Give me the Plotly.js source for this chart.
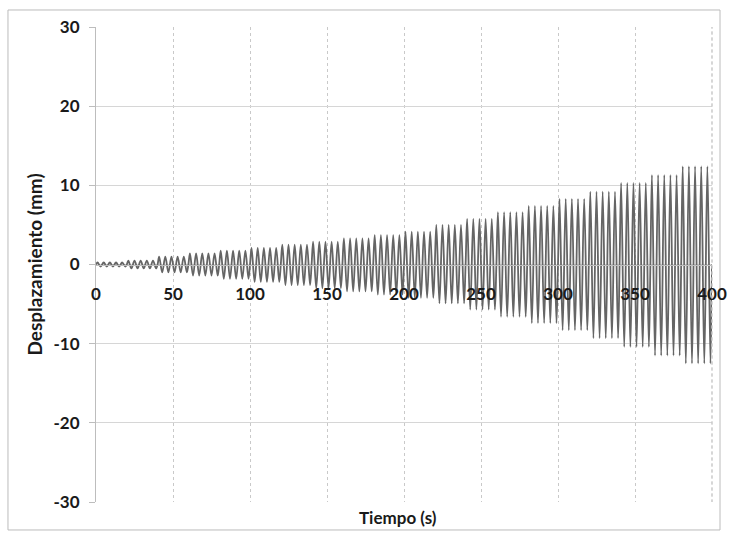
<!DOCTYPE html>
<html>
<head>
<meta charset="utf-8">
<script src="https://cdn.plot.ly/plotly-3.0.1.min.js"></script>
<style>html,body{margin:0;padding:0;background:#fff;}#chart{width:729px;height:536px;}</style>
</head>
<body>
<div id="chart"></div>
<script>
// Loading protocol: 20 s steps, 5 cycles of 4 s each
const stepStart = [0, 20, 40, 60, 80, 100, 120, 140, 160, 180, 200, 220, 240, 260, 280, 300, 320, 340, 360, 380];
const peakPos   = [0.25, 0.5, 1.0, 1.4, 1.75, 2.1, 2.5, 2.9, 3.3, 3.7, 4.15, 5.0, 5.75, 6.6, 7.4, 8.3, 9.2, 10.3, 11.3, 12.4];
const peakNeg   = [-0.25, -0.5, -1.0, -1.4, -1.8, -2.2, -2.6, -3.0, -3.4, -3.8, -4.2, -4.9, -5.7, -6.6, -7.4, -8.3, -9.3, -10.4, -11.5, -12.5];
const cyclesPerStep = 5;
const period = 4;
const xTicks = [0, 50, 100, 150, 200, 250, 300, 350, 400];
const yTicks = [-30, -20, -10, 0, 10, 20, 30];

// Build the peak sequence (peaks and troughs of each cycle)
const t = [], d = [];
for (let s = 0; s < stepStart.length; s++) {
  t.push(stepStart[s]); d.push(0);
  for (let c = 0; c < cyclesPerStep; c++) {
    const c0 = stepStart[s] + c * period;
    t.push(c0 + period / 4); d.push(peakPos[s]);
    t.push(c0 + 3 * period / 4); d.push(peakNeg[s]);
  }
}
t.push(stepStart[stepStart.length - 1] + cyclesPerStep * period); d.push(0);

const fam = 'Lato, "Open Sans", sans-serif';
const tickFont = {family: fam, size: 17, color: '#1a1a1a', weight: 'bold'};
const xTitleFont = {family: fam, size: 17, color: '#1a1a1a', weight: 'bold'};
const yTitleFont = {family: fam, size: 19, color: '#1a1a1a', weight: 'bold'};

const trace = {
  x: t, y: d, type: 'scatter', mode: 'lines',
  line: {color: '#656565', width: 1.8, shape: 'spline', smoothing: 1},
  hoverinfo: 'skip'
};

const layout = {
  width: 729, height: 536,
  margin: {l: 96, r: 17, t: 27, b: 34},
  paper_bgcolor: '#ffffff', plot_bgcolor: '#ffffff',
  showlegend: false,
  font: tickFont,
  xaxis: {
    range: [0, 400], tickvals: xTicks, ticktext: xTicks.map(String),
    anchor: 'free', position: 0.5,
    showgrid: true, gridcolor: '#c9c9c9', griddash: 'dot', gridwidth: 1,
    zeroline: false, showline: true, linecolor: '#bdbdbd', linewidth: 1,
    ticks: '', ticklabelstandoff: 14,
    tickfont: tickFont, fixedrange: true
  },
  yaxis: {
    range: [-30, 30], tickvals: yTicks, ticktext: yTicks.map(String),
    showgrid: true, gridcolor: '#d6d6d6', gridwidth: 1,
    zeroline: false, showline: true, linecolor: '#bdbdbd', linewidth: 1,
    ticks: 'outside', ticklen: 6, tickcolor: '#bdbdbd', ticklabelstandoff: 6,
    tickfont: tickFont,
    title: {text: 'Desplazamiento (mm)', font: yTitleFont, standoff: 5},
    fixedrange: true
  },
  shapes: [
    {type: 'rect', xref: 'paper', yref: 'paper', x0: 1, x1: 1, y0: 0, y1: 1,
     line: {color: '#c9c9c9', width: 1, dash: 'dot'}},
    {type: 'rect', xref: 'paper', yref: 'paper', x0: -0.1429, x1: 1.013, y0: -0.0589, y1: 1.0358,
     line: {color: '#bcbcbc', width: 1}, fillcolor: 'rgba(0,0,0,0)', layer: 'below'}
  ],
  annotations: [
    {text: 'Tiempo (s)', xref: 'paper', yref: 'paper', x: 0.49, y: -0.032,
     xanchor: 'center', yanchor: 'middle', showarrow: false, font: xTitleFont}
  ]
};

Plotly.newPlot('chart', [trace], layout, {displayModeBar: false, staticPlot: true});
</script>
</body>
</html>
